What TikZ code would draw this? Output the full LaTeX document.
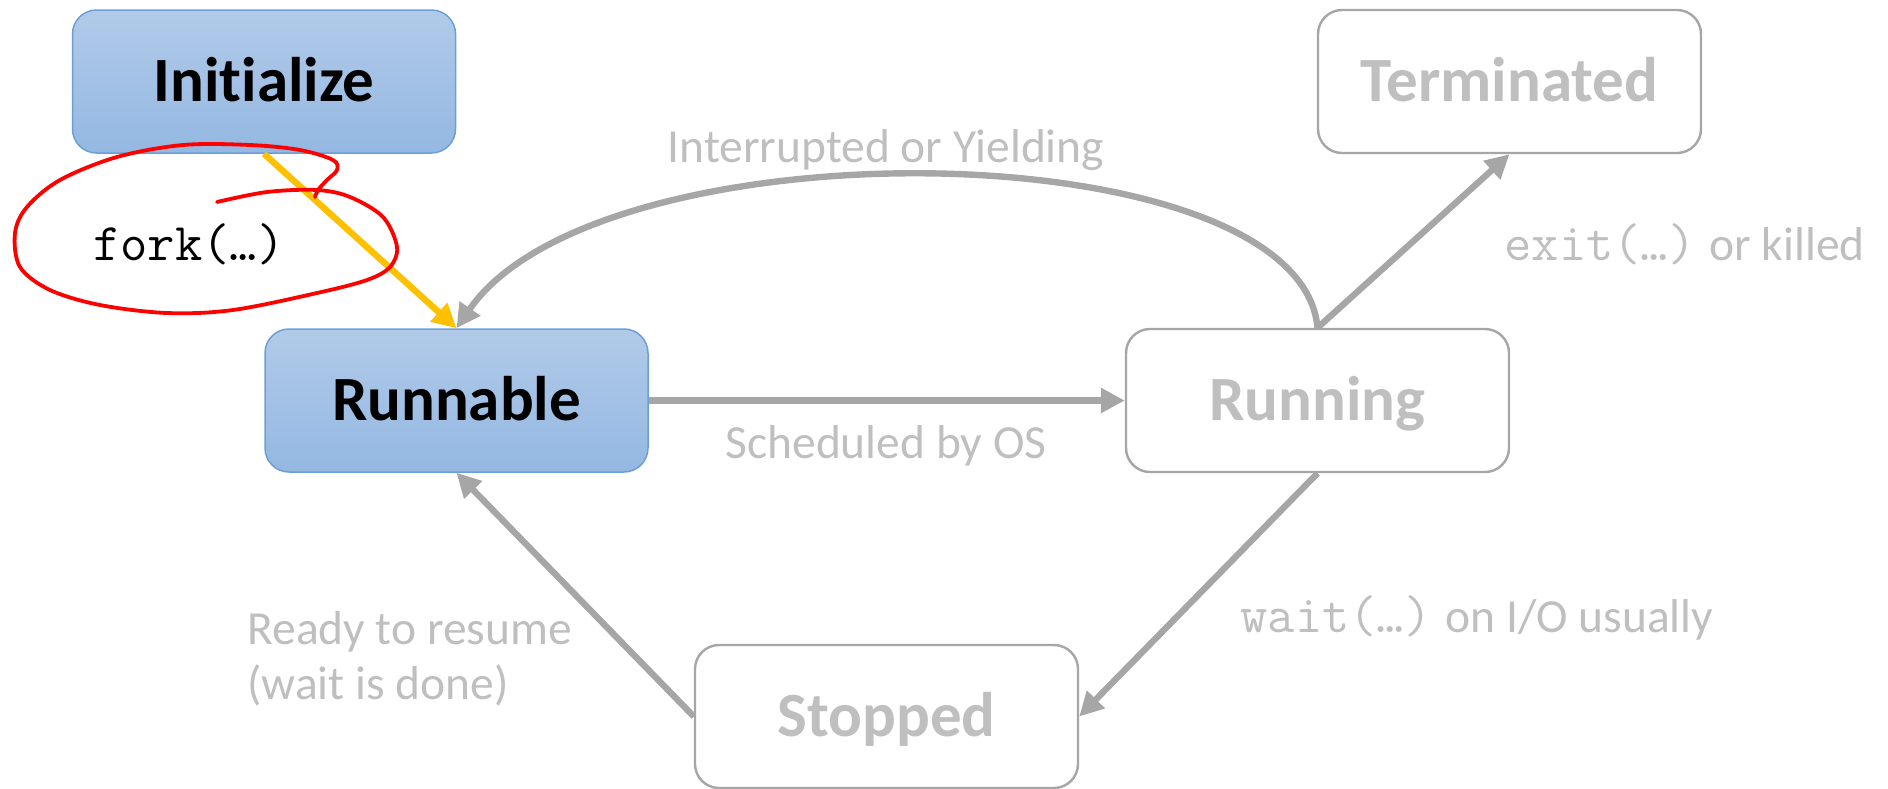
\documentclass[tikz,border=0pt]{standalone}
\usepackage{fontspec}
\setmainfont{Carlito}[Ligatures=NoCommon]
\usetikzlibrary{arrows.meta}
\definecolor{blueTop}{HTML}{B1CAE9}
\definecolor{blueBot}{HTML}{94B8E2}
\definecolor{blueEdge}{HTML}{6A9FD8}
\definecolor{grayEdge}{HTML}{A6A6A6}
\definecolor{grayText}{HTML}{BFBFBF}
\definecolor{forkGold}{HTML}{FFC000}
\newcommand\callfont{\ttfamily\fontsize{26.5}{31}\selectfont}
\begin{document}
\begin{tikzpicture}[x=0.5pt,y=-0.5pt,
  statebox/.style={rounded corners=12pt, minimum width=191.5pt, minimum height=71.5pt,
    inner sep=0pt, font=\fontsize{31.5}{36}\selectfont\bfseries,
    text height=20.3pt, text depth=0pt},
  active/.style={statebox, top color=blueTop, bottom color=blueBot, draw=blueEdge,
    line width=0.75pt, text=black},
  idle/.style={statebox, fill=white, draw=grayEdge, line width=1.2pt, text=grayText},
  flow/.style={draw=grayEdge, line width=3.2pt, -{Triangle[length=12pt,width=12pt]}},
  lbl/.style={text=grayText, font=\fontsize{23.75}{28.5}\selectfont, inner sep=0pt},
  codetext/.style={font=\callfont, inner sep=0pt}
]
\useasboundingbox (0,0) rectangle (1888,788);

% process states
\node[active] (init)     at (264,81.5)    {Initialize};
\node[active] (runnable) at (456.5,400.5) {Runnable};
\node[idle]   (running)  at (1317.5,400.5) {Running};
\node[idle]   (term)     at (1509.5,81.5) {Terminated};
\node[idle]   (stopped)  at (886.5,716.5) {Stopped};

% transitions
\draw[flow] (runnable.east) -- (running.west);
\draw[flow] (running.north) .. controls (1300,130) and (600,120) .. (runnable.north);
\draw[flow] (running.north) -- (term.south);
\draw[flow] (running.south) -- (stopped.east);
\draw[flow] (stopped.west) -- (runnable.south);
\draw[flow, draw=forkGold] (init.south) -- (runnable.north);

% transition labels
\node[lbl, anchor=base] (lint)   at (886,162) {Interrupted or Yielding};
\node[lbl, anchor=base] (lsched) at (886,458) {Scheduled by OS};
\node[lbl, anchor=base west] (lexit) at (1504,260)
  {{\callfont exit(…)}\hspace{7pt}or killed};
\node[lbl, anchor=base west] (lwait) at (1240,632)
  {{\callfont wait(…)}\hspace{7pt}on I/O usually};
\node[lbl, anchor=base west] (lready1) at (247,644) {Ready to resume};
\node[lbl, anchor=base west] (lready2) at (247,699) {(wait is done)};
\node[codetext, anchor=base west] (fork) at (93,260) {fork(…)};

% hand-drawn loop around the fork call
\draw[red, line width=1.9pt, line cap=round, line join=round]
  plot[smooth, tension=0.55] coordinates {
    (217,202) (267,192) (317,190) (350,197) (383,217) (397,247) (390,267)
    (367,280) (317,293) (233,310) (167,313) (100,305) (50,290) (20,267)
    (15,233) (27,207) (60,180) (117,157) (183,145) (250,145) (300,150)
    (333,160) (337,170) (327,180) (318,190) (315,197)};
\end{tikzpicture}
\end{document}
